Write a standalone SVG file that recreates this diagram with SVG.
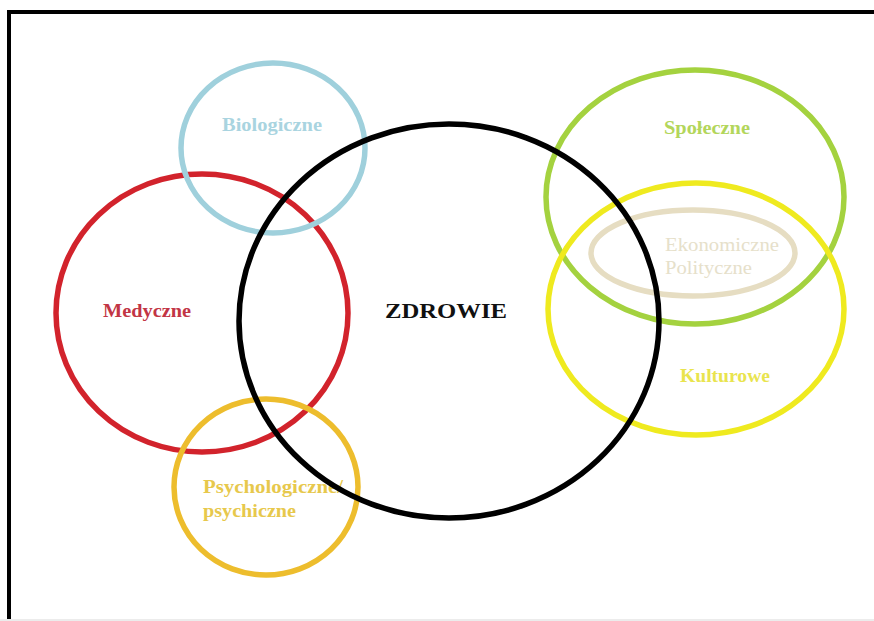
<svg xmlns="http://www.w3.org/2000/svg" width="874" height="621" viewBox="0 0 874 621">
<style>
.ring{fill:none;stroke-width:5.5}
.t{font-family:"Liberation Serif","Times New Roman",serif;font-weight:bold;font-size:19px}
.r{font-weight:normal}
</style>
<rect x="0" y="0" width="874" height="621" fill="#ffffff"/>
<path d="M9,621 V12 H874" fill="none" stroke="#000" stroke-width="4"/>
<line x1="0" y1="620" x2="874" y2="620" stroke="#ececec" stroke-width="2"/>
<g id="medyczne">
<ellipse class="ring" cx="202" cy="313" rx="146" ry="139" stroke="#d2232c"/>
<text class="t" x="103" y="317" fill="#c23545" textLength="88" lengthAdjust="spacingAndGlyphs">Medyczne</text>
</g>
<g id="biologiczne">
<ellipse class="ring" cx="273" cy="148" rx="92" ry="85" stroke="#9fd0dc"/>
<text class="t" x="222" y="131" fill="#a9d4e0" textLength="100" lengthAdjust="spacingAndGlyphs">Biologiczne</text>
</g>
<g id="psychologiczne">
<ellipse class="ring" cx="266" cy="487" rx="92" ry="88" stroke="#edbd2d"/>
<text class="t" x="203" y="493" fill="#e7c84c" textLength="140" lengthAdjust="spacingAndGlyphs">Psychologiczne/</text>
<text class="t" x="203" y="517" fill="#e7c84c" textLength="93" lengthAdjust="spacingAndGlyphs">psychiczne</text>
</g>
<g id="spoleczne">
<ellipse class="ring" cx="695" cy="197" rx="149" ry="127" stroke="#a4d23f"/>
<text class="t" x="664" y="134" fill="#b3d65b" textLength="86" lengthAdjust="spacingAndGlyphs">Społeczne</text>
</g>
<g id="kulturowe">
<ellipse class="ring" cx="696" cy="309" rx="148" ry="126" stroke="#efea1f"/>
<text class="t" x="680" y="382" fill="#e9e44e" textLength="90" lengthAdjust="spacingAndGlyphs">Kulturowe</text>
</g>
<g id="ekonomiczne">
<ellipse class="ring" cx="693" cy="253" rx="102" ry="43" stroke="#e6ddc2"/>
<text class="t r" x="665" y="251" fill="#e6e0ca" textLength="114" lengthAdjust="spacingAndGlyphs">Ekonomiczne</text>
<text class="t r" x="665" y="274" fill="#e6e0ca" textLength="87" lengthAdjust="spacingAndGlyphs">Polityczne</text>
</g>
<g id="zdrowie">
<ellipse class="ring" cx="449" cy="321" rx="210" ry="197" stroke="#000000"/>
<text class="t" x="385" y="318" fill="#111111" style="font-size:22px" textLength="122" lengthAdjust="spacingAndGlyphs">ZDROWIE</text>
</g>
<g id="connectors"></g>
</svg>
